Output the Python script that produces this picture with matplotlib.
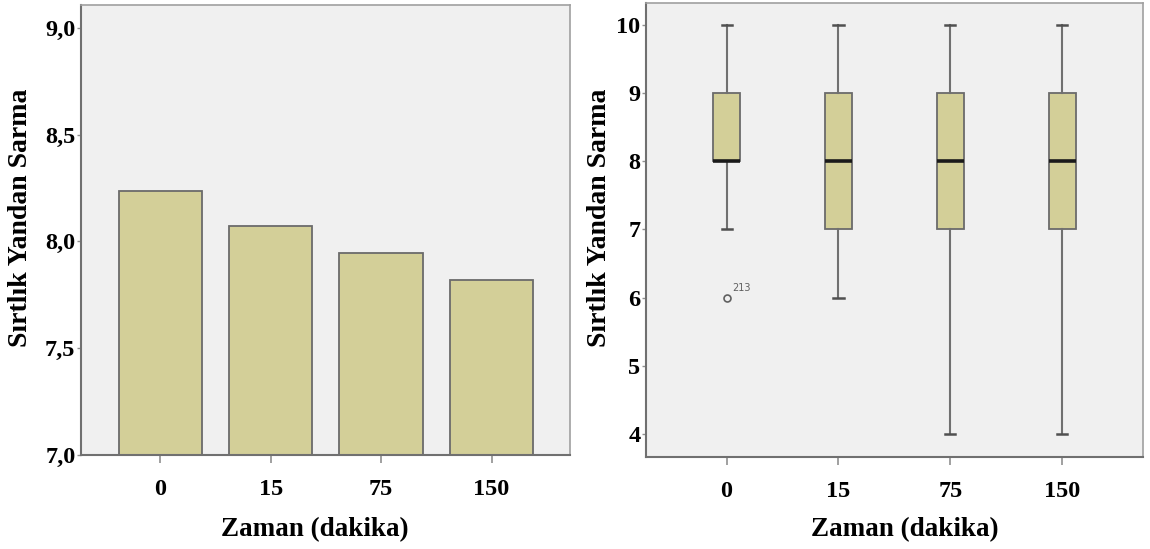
import matplotlib.pyplot as plt

# data
groups = ['0', '15', '75', '150']
means = [8.238, 8.074, 7.948, 7.82]

# box plot summaries per group (whisker low, q1, median, q3, whisker high)
wlo = [7, 6, 4, 4]
q1 = [8, 7, 7, 7]
med = [8, 8, 8, 8]
q3 = [9, 9, 9, 9]
whi = [10, 10, 10, 10]
outliers = [[6], [], [], []]
outlier_ids = ['213']

bar_color = '#d3cf98'
edge_color = '#6b6b6b'
bg_color = '#f0f0f0'
font = 'Liberation Serif'

fig = plt.figure(figsize=(11.5, 5.49), dpi=100)
ax1 = fig.add_axes([0.0704, 0.1712, 0.4253, 0.8197])
ax2 = fig.add_axes([0.5617, 0.1676, 0.4322, 0.8269])

def style_axes(ax, xlab_pos, ylab_pos):
    ax.set_facecolor(bg_color)
    for side in ['top', 'right']:
        ax.spines[side].set_color('#a0a0a0')
        ax.spines[side].set_linewidth(1.2)
    for side in ['left', 'bottom']:
        ax.spines[side].set_color('#707070')
        ax.spines[side].set_linewidth(1.5)
    ax.tick_params(axis='x', length=6, width=1.2, color='#909090', pad=11)
    ax.tick_params(axis='y', length=3, width=1.0, color='#909090', pad=1)
    for lab in ax.get_xticklabels() + ax.get_yticklabels():
        lab.set_fontfamily(font)
        lab.set_fontweight('bold')
        lab.set_fontsize(17.5)
    ax.set_xlabel('Zaman (dakika)', fontfamily=font, fontweight='bold',
                  fontsize=19.5)
    ax.set_ylabel('Sırtlık Yandan Sarma', fontfamily=font, fontweight='bold',
                  fontsize=20)
    ax.xaxis.set_label_coords(*xlab_pos)
    ax.yaxis.set_label_coords(*ylab_pos)

# left: bar chart of means
pos = list(range(len(groups)))
ax1.bar(pos, means, width=0.755, color=bar_color, edgecolor=edge_color,
        linewidth=1.3, zorder=2)
ax1.set_xlim(-0.718, 3.711)
ax1.set_ylim(7.0, 9.107)
ax1.set_yticks([7.0, 7.5, 8.0, 8.5, 9.0])
ax1.set_yticklabels([f'{v:.1f}'.replace('.', ',') for v in [7.0, 7.5, 8.0, 8.5, 9.0]])
ax1.set_xticks(pos)
ax1.set_xticklabels(groups)
style_axes(ax1, (0.478, -0.137), (-0.098, 0.527))

# right: box plot
stats = []
for i in range(len(groups)):
    stats.append({'whislo': wlo[i], 'q1': q1[i], 'med': med[i], 'q3': q3[i],
                  'whishi': whi[i], 'fliers': outliers[i], 'label': groups[i]})
ax2.bxp(stats, positions=pos, widths=0.235, patch_artist=True,
        boxprops=dict(facecolor=bar_color, edgecolor=edge_color, linewidth=1.3),
        medianprops=dict(color='#1a1a1a', linewidth=2.6),
        whiskerprops=dict(color='#707070', linewidth=1.5),
        capprops=dict(color='#505050', linewidth=1.8),
        capwidths=0.09,
        flierprops=dict(marker='o', markersize=5, markerfacecolor='none',
                        markeredgecolor='#606060', markeredgewidth=1.2))
ax2.text(0.05, 6.1, outlier_ids[0], fontsize=7, color='#606060',
         fontfamily='DejaVu Sans')
ax2.set_xlim(-0.72, 3.72)
ax2.set_ylim(3.655, 10.33)
ax2.set_yticks([4, 5, 6, 7, 8, 9, 10])
ax2.set_xticks(pos)
ax2.set_xticklabels(groups)
style_axes(ax2, (0.52, -0.133), (-0.068, 0.526))

fig.savefig('out.png', dpi=100, facecolor='white')
